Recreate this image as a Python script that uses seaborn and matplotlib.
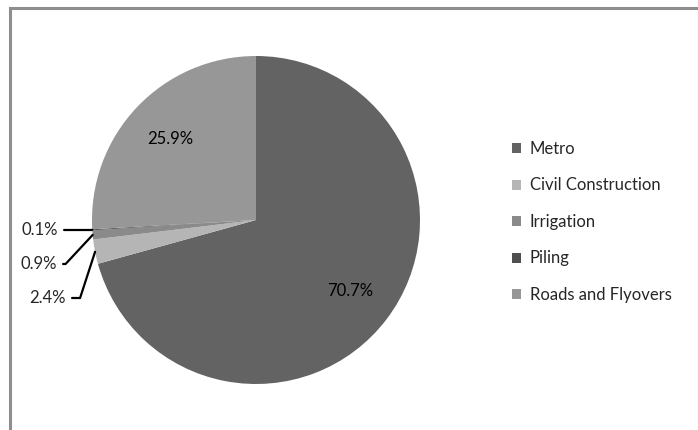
import numpy as np
import matplotlib
matplotlib.use("Agg")
import matplotlib.pyplot as plt
import matplotlib.patches as mpatches
import seaborn as sns

# --- data ---
categories = ["Metro", "Civil Construction", "Irrigation", "Piling", "Roads and Flyovers"]
shares = [70.7, 2.4, 0.9, 0.1, 25.9]
colors = ["#636363", "#b5b5b5", "#8a8a8a", "#4f4f4f", "#979797"]
big_labels = {"Metro": "70.7%", "Roads and Flyovers": "25.9%"}
small_labels = {"Civil Construction": "2.4%", "Irrigation": "0.9%", "Piling": "0.1%"}

sns.set_style("white")
plt.rcParams["font.family"] = ["Lato", "DejaVu Sans"]

W, H = 698, 430
fig = plt.figure(figsize=(W / 100, H / 100), dpi=100)

cx, cy, r = 256, 220, 164
ax = fig.add_axes([(cx - r) / W, (H - cy - r) / H, 2 * r / W, 2 * r / H])

wedges, _ = ax.pie(shares, colors=colors, startangle=90, counterclock=False,
                   radius=1, wedgeprops=dict(linewidth=0))
ax.set_xlim(-1, 1)
ax.set_ylim(-1, 1)
ax.set_aspect("equal")
ax.axis("off")

# label positions (pixel coords of text) and leader line angles
small_pos = {"Piling": (58, 230, 22), "Irrigation": (57, 264, 47), "Civil Construction": (66, 298, 72)}

for w, cat in zip(wedges, categories):
    mid = np.deg2rad((w.theta1 + w.theta2) / 2)
    if cat in big_labels:
        d = 0.72
        ax.text(d * np.cos(mid), d * np.sin(mid), big_labels[cat],
                ha="center", va="center", fontsize=12, color="black")
    else:
        px, py, angB = small_pos[cat]
        tx, ty = (px - cx) / r, (cy - py) / r
        ax.annotate(small_labels[cat], xy=(np.cos(mid), np.sin(mid)), xytext=(tx, ty),
                    ha="right", va="center", fontsize=12, annotation_clip=False,
                    arrowprops=dict(arrowstyle="-", color="black", lw=1.6,
                                    shrinkA=2, shrinkB=0, relpos=(1, 0.5),
                                    connectionstyle=f"angle,angleA=0,angleB={angB},rad=0"))

handles = [mpatches.Patch(facecolor=c, edgecolor="none") for c in colors]
fig.legend(handles, categories, loc="upper left", bbox_to_anchor=(512 / W, 1 - 141 / H),
           frameon=False, fontsize=12, labelspacing=1.23, handlelength=0.55,
           handleheight=0.55, handletextpad=0.5, borderaxespad=0, borderpad=0)

# outer frame
frame = mpatches.Rectangle((9.5 / W, -0.2), 1.5, 1 - 8.5 / H + 0.2, transform=fig.transFigure,
                           fill=False, edgecolor="#8e8e8e", linewidth=2.2)
fig.add_artist(frame)

fig.savefig("out.png", dpi=100, facecolor="white")
